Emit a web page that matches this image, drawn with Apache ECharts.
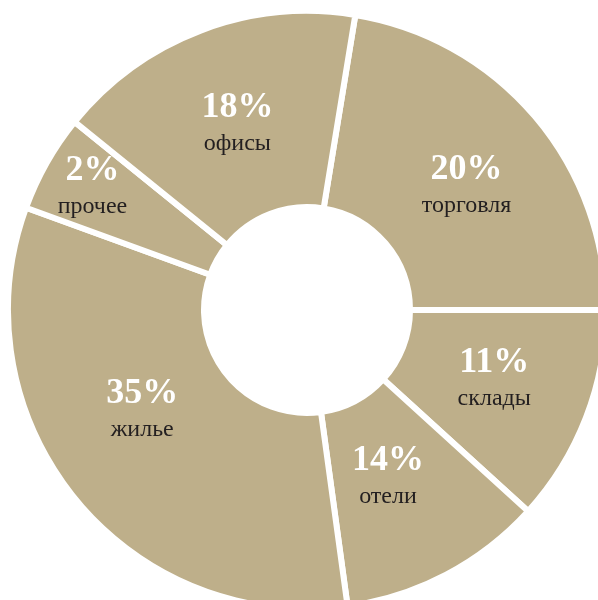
<!DOCTYPE html>
<html>
<head>
<meta charset="utf-8">
<script src="https://cdn.jsdelivr.net/npm/echarts@6/dist/echarts.min.js"></script>
<style>
  html, body { margin: 0; padding: 0; background: #fff; }
  #chart { width: 598px; height: 600px; }
</style>
</head>
<body>
<div id="chart"></div>
<script>
// сегменты по часовой стрелке, начиная с торговли
const categories = ['торговля', 'склады', 'отели', 'жилье', 'прочее', 'офисы'];
// подписи долей, как напечатаны на схеме
const shareLabels = ['20%', '11%', '14%', '35%', '2%', '18%'];
// угловой размер секторов на картинке (градусы) - они не совпадают с подписями
const sweepDegrees = [80.7, 42.3, 39.9, 117.8, 19, 60.3];

// небольшой сдвиг подписей от середины сектора
const labelShift = [[4, 9], [-3, -4], [-14, -13], [-6, -27], [-37, -22], [3, 5]];

const fill = '#BEAF8A';
const ink = '#231F20';

const chart = echarts.init(document.getElementById('chart'));

const option = {
  animation: false,
  series: [{
    type: 'pie',
    center: [307, 310],
    radius: [103, 299],
    startAngle: 80.7,
    clockwise: true,
    silent: true,
    itemStyle: {
      color: fill,
      borderColor: '#fff',
      borderWidth: 6
    },
    label: {
      show: true,
      position: 'inside',
      formatter: (p) => '{p|' + shareLabels[p.dataIndex] + '}\n{n|' + p.name + '}',
      rich: {
        p: {
          fontFamily: 'Liberation Serif',
          fontWeight: 'bold',
          fontSize: 36,
          lineHeight: 38,
          color: '#fff',
          align: 'center'
        },
        n: {
          fontFamily: 'Liberation Serif',
          fontSize: 24,
          lineHeight: 34,
          color: ink,
          align: 'center'
        }
      }
    },
    labelLine: { show: false },
    labelLayout: (p) => ({
      dx: labelShift[p.dataIndex][0],
      dy: labelShift[p.dataIndex][1]
    }),
    data: categories.map((name, i) => ({ name: name, value: sweepDegrees[i] }))
  }]
};

chart.setOption(option);
</script>
</body>
</html>
